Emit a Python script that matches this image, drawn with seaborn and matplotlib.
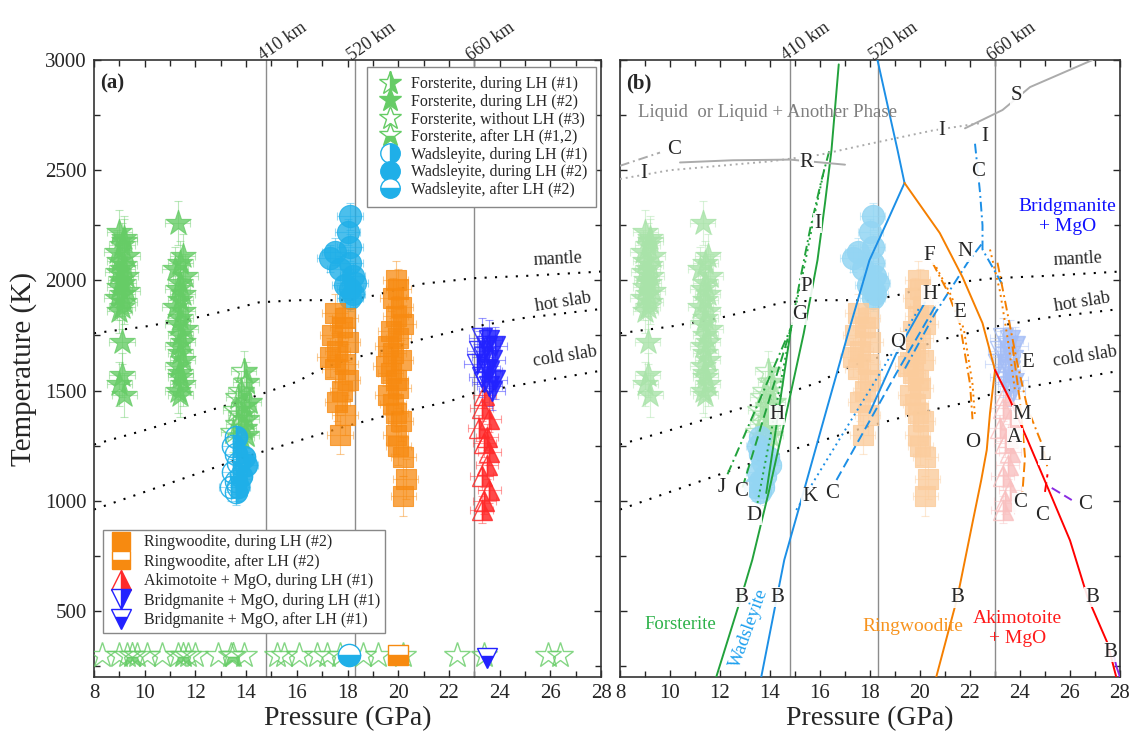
import matplotlib
matplotlib.use("Agg")
import matplotlib.pyplot as plt
from matplotlib.lines import Line2D
from matplotlib.ticker import MultipleLocator
import seaborn as sns

# ---------------- data (P in GPa, T in K) ----------------

# Forsterite, during LH (#2): two dense columns
fo2_P = [9.0, 9.2, 9.1, 8.9, 9.3, 9.0, 9.2, 9.1, 8.95, 9.25, 9.05, 9.15, 9.0, 9.3, 9.1, 8.9, 9.2, 9.1, 9.0, 9.2,
         9.1, 9.1, 9.0, 9.2,
         11.3, 11.5, 11.4, 11.2, 11.6, 11.4, 11.3, 11.5, 11.4, 11.2, 11.5, 11.4, 11.3, 11.6, 11.4, 11.5, 11.3,
         11.4, 11.5, 11.3, 11.4, 11.4, 11.5, 11.3, 11.4]
fo2_T = [2220, 2190, 2160, 2130, 2110, 2090, 2070, 2050, 2040, 2020, 2000, 1990, 1970, 1950, 1940, 1920, 1900,
         1880, 1860, 2180, 1720, 1570, 1530, 1480,
         2260, 2110, 2080, 2050, 2020, 1990, 1960, 1940, 1910, 1880, 1860, 1830, 1800, 1780, 1750, 1720, 1700,
         1670, 1640, 1610, 1580, 1560, 1530, 1500, 1480]

# Forsterite, during LH (#1)
fo1_P = [13.9, 14.0, 13.8, 13.7, 14.1, 13.9, 13.6, 13.8, 14.0, 13.7, 13.9, 13.5, 13.8, 14.0]
fo1_T = [1590, 1540, 1500, 1470, 1450, 1430, 1410, 1390, 1370, 1350, 1330, 1310, 1290, 1300]

# Forsterite, without LH (#3) and after LH (#1,2), room temperature
fo3_P = [8.3, 9.0, 9.3, 9.7, 10.1, 10.7, 11.3, 11.7, 12.0, 12.9, 13.4, 13.9, 15.2, 15.5, 16.1, 16.8, 17.2,
         17.7, 18.6, 19.2, 20.2, 22.3, 23.4, 25.9, 26.4]
fo3_T = [300, 300, 300, 300, 300, 300, 300, 300, 300, 300, 300, 300, 300, 300, 300, 300, 300,
         300, 300, 300, 300, 300, 300, 300, 300]
fo_after_P = [9.5, 11.5, 13.5]
fo_after_T = [300, 300, 300]

# Wadsleyite
wa1_P = [13.6, 13.5, 13.6, 13.7, 13.5, 13.6, 13.4, 13.6, 13.9, 14.0, 13.8, 13.7]
wa1_T = [1290, 1250, 1210, 1170, 1130, 1090, 1060, 1040, 1200, 1160, 1110, 1060]
wa2_P = [18.1, 18.0, 18.1, 17.5, 17.3, 17.7, 18.1, 18.2, 17.9, 18.1, 18.3, 18.2, 18.1]
wa2_T = [2290, 2220, 2150, 2130, 2100, 2050, 2080, 2020, 1980, 1960, 1990, 1940, 1920]
wa_after_P = [18.05]
wa_after_T = [300]

# Ringwoodite, during LH (#2)
rw2_P = [17.5, 17.9, 17.8, 17.4, 18.0, 17.6, 17.3, 17.9, 17.5, 18.0, 17.8, 17.6, 17.9, 17.7,
         19.9, 20.0, 19.8, 20.1, 19.9, 20.2, 19.7, 20.0, 19.6, 19.8, 20.1, 19.5, 19.7, 19.9, 20.0, 19.6,
         19.8, 19.9, 20.1, 19.9, 20.0, 20.2, 20.3, 20.2]
rw2_T = [1850, 1830, 1790, 1750, 1720, 1680, 1650, 1620, 1600, 1550, 1500, 1450, 1390, 1300,
         2000, 1960, 1920, 1880, 1840, 1800, 1770, 1740, 1700, 1670, 1640, 1610, 1580, 1550, 1510, 1480,
         1440, 1400, 1360, 1300, 1250, 1200, 1100, 1020]
rw_after_P = [20.0]
rw_after_T = [300]

# Akimotoite + MgO, during LH (#1)
ak1_P = [23.4, 23.3, 23.6, 23.2, 23.5, 23.4, 23.6, 23.5, 23.3, 23.6, 23.4, 23.3]
ak1_T = [1480, 1420, 1370, 1330, 1290, 1260, 1220, 1160, 1110, 1050, 1000, 960]

# Bridgmanite + MgO
bm1_P = [23.3, 23.6, 23.5, 23.8, 23.2, 23.4, 23.7, 23.1, 23.5, 23.6, 23.3, 23.8, 23.4, 23.6, 23.7]
bm1_T = [1740, 1730, 1700, 1700, 1680, 1650, 1640, 1620, 1600, 1590, 1560, 1550, 1540, 1520, 1500]
bm_after_P = [23.5]
bm_after_T = [285]

# geotherms
mantle_P = [8, 10, 12, 13.5, 14.5, 16, 18, 19, 20, 21, 23, 25, 28]
mantle_T = [1760, 1790, 1830, 1870, 1900, 1910, 1910, 1930, 1960, 1985, 2010, 2020, 2040]
hot_P = [8, 10, 12, 14, 16, 17, 18, 20, 21, 23, 25, 28]
hot_T = [1255, 1320, 1390, 1460, 1540, 1600, 1640, 1700, 1735, 1790, 1830, 1870]
cold_P = [8, 10, 12, 14, 16, 18, 20, 22, 23, 25, 28]
cold_T = [960, 1040, 1120, 1200, 1270, 1340, 1400, 1450, 1490, 1530, 1590]

# discontinuity depths
disc_P = [14.8, 18.3, 23.0]
disc_names = ["410 km", "520 km", "660 km"]

# phase boundaries in panel (b)
fo_B_P = [11.85, 12.85, 13.29, 13.97, 14.77, 15.35, 15.9, 16.2, 16.46, 16.75]
fo_B_T = [200, 563, 731, 1049, 1457, 1760, 2092, 2350, 2592, 2980]
fo_J_P = [12.3, 14.85, 15.2, 15.6, 16.05, 16.4]
fo_J_T = [1120, 1788, 2000, 2230, 2450, 2600]
fo_C_P = [12.9, 14.85]
fo_C_T = [1060, 1788]
fo_D_P = [13.5, 14.85, 15.35, 15.75, 16.2]
fo_D_T = [990, 1788, 2050, 2280, 2520]
fo_H_P = [13.85, 14.85]
fo_H_T = [1035, 1788]

wa_B_P = [13.65, 14.1, 14.57, 15.4, 16.26, 17.1, 17.98, 18.7, 19.38]
wa_B_T = [200, 460, 731, 1063, 1412, 1750, 2092, 2270, 2442]
wa_top_P = [19.38, 19.1, 18.3]
wa_top_T = [2442, 2592, 3000]
wa_K_P = [15.05, 17.0, 19.0, 20.0]
wa_K_T = [958, 1320, 1690, 1880]
wa_Q_P = [17.98, 19.06, 20.2]
wa_Q_T = [1398, 1670, 1900]
wa_C_P = [16.66, 19.06, 20.7]
wa_C_T = [1094, 1580, 1900]
wa_N_P = [19.4, 20.6, 21.9, 22.5]
wa_N_T = [1600, 1850, 2080, 2170]
wa_I_P = [22.2, 22.4, 22.5, 22.5, 22.9, 23.3]
wa_I_T = [2620, 2400, 2250, 2140, 2060, 1980]

rw_top_P = [19.38, 20.79, 21.7, 22.5, 23.0]
rw_top_T = [2442, 2215, 2015, 1806, 1593]
rw_B_P = [20.65, 21.5, 22.1, 22.45, 22.67, 22.8, 23.0]
rw_B_T = [200, 563, 900, 1094, 1230, 1398, 1593]
rw_F_P = [20.5, 21.1, 21.6, 22.0, 22.1]
rw_F_T = [2080, 1950, 1800, 1530, 1370]
rw_F2_P = [20.65, 21.25, 21.75, 22.1, 22.2]
rw_F2_T = [2060, 1930, 1780, 1530, 1380]
rw_r1_P = [22.8, 23.2, 23.5, 23.8]
rw_r1_T = [2140, 1950, 1740, 1500]
rw_r2_P = [23.1, 23.5, 23.9, 24.3, 24.9, 25.1]
rw_r2_T = [2080, 1850, 1620, 1420, 1250, 1150]
rw_r3_P = [23.7, 24.0, 24.2, 24.1]
rw_r3_T = [1700, 1450, 1200, 1040]

ak_B_P = [23.0, 23.6, 24.3, 25.1, 26.0, 26.7, 27.5, 27.85]
ak_B_T = [1593, 1457, 1276, 1062, 820, 563, 354, 200]
ak_C_P = [25.0, 25.1]
ak_C_T = [1040, 1120]
pu_C_P = [25.27, 26.07]
pu_C_T = [1058, 1003]
pu_B_P = [27.75, 27.85, 28.0]
pu_B_T = [300, 250, 200]

liq_C1_P = [8.0, 9.6]
liq_C1_T = [2520, 2580]
liq_C2_P = [10.4, 12.5, 14.8, 17.0]
liq_C2_T = [2535, 2545, 2548, 2525]
liq_I_P = [8.0, 10.0, 12.0, 14.0, 16.0, 18.0, 20.5, 22.5]
liq_I_T = [2460, 2500, 2520, 2540, 2570, 2620, 2680, 2715]
liq_S_P = [21.8, 23.3, 24.4, 26.9]
liq_S_T = [2690, 2773, 2877, 3000]

# letters in panel (b)
b_letters = ["C", "I", "R", "I", "S", "I", "C", "I", "F", "N", "P", "H", "G", "E", "Q", "E", "H", "M",
             "O", "A", "L", "J", "C", "K", "C", "C", "C", "C", "D", "B", "B", "B", "B", "B"]
b_letter_P = [10.16, 8.96, 15.46, 20.87, 23.87, 22.59, 22.31, 15.9, 20.38, 21.79, 15.46, 20.38, 15.17,
              21.59, 19.1, 24.3, 14.29, 24.07, 22.1, 23.79, 25.0, 12.05, 12.85, 15.58, 16.5, 23.99,
              26.6, 24.9, 13.37, 12.85, 14.29, 21.5, 26.88, 27.6]
b_letter_T = [2592, 2487, 2533, 2682, 2841, 2651, 2492, 2260, 2115, 2129, 1970, 1934, 1843, 1852, 1720,
              1625, 1389, 1389, 1262, 1285, 1207, 1062, 1040, 1017, 1035, 990, 981, 935, 935, 563, 563,
              559, 563, 313]

# ---------------- colours ----------------
GREEN = "#66CC66"
CYAN = "#1FAFE8"
ORANGE = "#F78A10"
RED = "#FF2A2A"
BLUE = "#2222FF"
L_GREEN = "#A9E3A9"
L_CYAN = "#93D5F3"
L_ORANGE = "#FBCC9C"
L_RED = "#F9C0C0"
L_BLUE = "#A4BDF6"

sns.set_style("ticks")
plt.rcParams["font.family"] = ["Liberation Serif", "DejaVu Serif"]

fig = plt.figure(figsize=(11.31, 7.34), dpi=100)
ax1 = fig.add_axes([94 / 1131, 57 / 734, 507 / 1131, 617 / 734])
ax2 = fig.add_axes([620 / 1131, 57 / 734, 500 / 1131, 617 / 734])


def draw_group(ax, P, T, color, marker, ms, fill, xerr, yerr, alpha, z=3):
    ax.errorbar(P, T, xerr=xerr, yerr=yerr, fmt="none", ecolor=color, elinewidth=0.8,
                capsize=3, capthick=0.8, alpha=0.45, zorder=z - 1)
    if fill == "full":
        sns.scatterplot(x=P, y=T, ax=ax, marker=marker, s=ms ** 2, color=color, edgecolor=color,
                        linewidth=0.8, alpha=alpha, legend=False, zorder=z)
    else:
        ax.plot(P, T, ls="none", marker=marker, ms=ms, fillstyle=fill, markerfacecolor=color,
                markerfacecoloralt="none", markeredgecolor=color, markeredgewidth=1.0,
                alpha=alpha, zorder=z)


def style_axis(ax, letter, ylabels):
    ax.set_xlim(8, 28)
    ax.set_ylim(200, 3000)
    ax.xaxis.set_major_locator(MultipleLocator(2))
    ax.xaxis.set_minor_locator(MultipleLocator(1))
    ax.yaxis.set_major_locator(MultipleLocator(500))
    ax.yaxis.set_minor_locator(MultipleLocator(250))
    ax.tick_params(which="major", direction="in", top=True, right=True, length=5, width=1,
                   labelsize=15, pad=5)
    ax.tick_params(which="minor", direction="in", top=True, right=True, length=4, width=1)
    for sp in ax.spines.values():
        sp.set_linewidth(1.2)
        sp.set_color("#333333")
    ax.set_xlabel("Pressure (GPa)", fontsize=20, labelpad=2)
    if ylabels:
        ax.set_ylabel("Temperature (K)", fontsize=21, labelpad=6)
    else:
        ax.set_yticklabels([])
    for p, name in zip(disc_P, disc_names):
        ax.axvline(p, color="#8C8C8C", lw=1.0, zorder=1)
        ax.text(p + 0.65, 1.03, name, transform=ax.get_xaxis_transform(), rotation=35,
                ha="center", va="center", fontsize=13)
    ax.text(8.25, 2895, letter, fontsize=15, fontweight="bold", ha="left", va="center")
    for P, T in [(mantle_P, mantle_T), (hot_P, hot_T), (cold_P, cold_T)]:
        ax.plot(P, T, color="black", ls=(0, (1, 4)), lw=1.5, zorder=2)
    ax.text(26.3, 2095, "mantle", fontsize=13, ha="center", va="center", rotation=3)
    ax.text(26.5, 1900, "hot slab", fontsize=13, ha="center", va="center", rotation=9)
    ax.text(26.6, 1655, "cold slab", fontsize=13, ha="center", va="center", rotation=9)


# ---------------- panel (a) ----------------
ax = ax1
draw_group(ax, fo2_P, fo2_T, GREEN, "*", 19, "full", 0.5, 100, 0.8)
draw_group(ax, fo1_P, fo1_T, GREEN, "*", 19, "right", 0.5, 90, 0.8)
draw_group(ax, wa1_P, wa1_T, CYAN, "o", 16, "right", 0.45, 60, 0.9)
draw_group(ax, wa2_P, wa2_T, CYAN, "o", 16, "full", 0.5, 60, 0.8)
draw_group(ax, rw2_P, rw2_T, ORANGE, "s", 14, "full", 0.5, 90, 0.75)
draw_group(ax, ak1_P, ak1_T, RED, "^", 15, "right", 0.45, 60, 0.85)
draw_group(ax, bm1_P, bm1_T, BLUE, "v", 15, "right", 0.5, 90, 0.85)
ax.plot(fo3_P, fo3_T, ls="none", marker="*", ms=19, markerfacecolor="none", markeredgecolor=GREEN,
        markeredgewidth=1.0, alpha=0.8, zorder=3)
ax.plot(fo_after_P, fo_after_T, ls="none", marker="*", ms=19, fillstyle="bottom", markerfacecolor=GREEN,
        markerfacecoloralt="none", markeredgecolor=GREEN, alpha=0.8, zorder=3)
ax.plot(wa_after_P, wa_after_T, ls="none", marker="o", ms=16, fillstyle="bottom", markerfacecolor=CYAN,
        markerfacecoloralt="white", markeredgecolor=CYAN, zorder=4)
ax.plot(rw_after_P, rw_after_T, ls="none", marker="s", ms=14, fillstyle="bottom", markerfacecolor=ORANGE,
        markerfacecoloralt="white", markeredgecolor=ORANGE, zorder=4)
ax.plot(bm_after_P, bm_after_T, ls="none", marker="v", ms=15, fillstyle="bottom", markerfacecolor=BLUE,
        markerfacecoloralt="white", markeredgecolor=BLUE, zorder=4)
style_axis(ax, "(a)", True)


def handle(marker, color, fill, ms):
    return Line2D([], [], ls="none", marker=marker, ms=ms, fillstyle=fill, markerfacecolor=color,
                  markerfacecoloralt="white", markeredgecolor=color, markeredgewidth=1.0)


h1 = [handle("*", GREEN, "right", 17), handle("*", GREEN, "full", 17), handle("*", GREEN, "none", 17),
      handle("*", GREEN, "bottom", 17), handle("o", CYAN, "right", 14), handle("o", CYAN, "full", 14),
      handle("o", CYAN, "bottom", 14)]
l1 = ["Forsterite, during LH (#1)", "Forsterite, during LH (#2)", "Forsterite, without LH (#3)",
      "Forsterite, after LH (#1,2)", "Wadsleyite, during LH (#1)", "Wadsleyite, during LH (#2)",
      "Wadsleyite, after LH (#2)"]
leg1 = ax.legend(h1, l1, loc="upper right", bbox_to_anchor=(0.99, 0.988), fontsize=11.5, frameon=True,
                 fancybox=False, edgecolor="#888888", framealpha=1, borderpad=0.55, labelspacing=0.1,
                 handletextpad=0.4, handlelength=1.8, borderaxespad=0)
leg1.get_frame().set_linewidth(1.0)
ax.add_artist(leg1)
h2 = [handle("s", ORANGE, "full", 13), handle("s", ORANGE, "bottom", 13), handle("^", RED, "right", 14),
      handle("v", BLUE, "right", 14), handle("v", BLUE, "bottom", 14)]
l2 = ["Ringwoodite, during LH (#2)", "Ringwoodite, after LH (#2)", "Akimotoite + MgO, during LH (#1)",
      "Bridgmanite + MgO, during LH (#1)", "Bridgmanite + MgO, after LH (#1)"]
leg2 = ax.legend(h2, l2, loc="lower left", bbox_to_anchor=(0.018, 0.071), fontsize=11.5, frameon=True,
                 fancybox=False, edgecolor="#888888", framealpha=1, borderpad=0.3, labelspacing=0.22,
                 handletextpad=0.55, handlelength=1.7, borderaxespad=0)
leg2.get_frame().set_linewidth(1.0)

# ---------------- panel (b) ----------------
ax = ax2
draw_group(ax, fo2_P, fo2_T, L_GREEN, "*", 19, "full", 0.5, 100, 0.8)
draw_group(ax, fo1_P, fo1_T, L_GREEN, "*", 19, "right", 0.5, 90, 0.8)
draw_group(ax, wa1_P, wa1_T, L_CYAN, "o", 16, "full", 0.45, 60, 0.8)
draw_group(ax, wa2_P, wa2_T, L_CYAN, "o", 16, "full", 0.5, 60, 0.85)
draw_group(ax, rw2_P, rw2_T, L_ORANGE, "s", 14, "full", 0.5, 90, 0.8)
draw_group(ax, ak1_P, ak1_T, L_RED, "^", 15, "right", 0.45, 60, 0.8)
draw_group(ax, bm1_P, bm1_T, L_BLUE, "v", 15, "right", 0.5, 90, 0.8)
style_axis(ax, "(b)", False)

G_LINE = "#22A23C"
B_LINE = "#1C8FE6"
O_LINE = "#F57F00"
R_LINE = "#FF0000"
P_LINE = "#8A2BE2"
GRAY = "#ABABAB"
DOT = (0, (1, 2))
DASH = (0, (5, 2.5))
DASHDOT = (0, (5, 2, 1, 2))
boundaries = [
    (fo_B_P, fo_B_T, G_LINE, "-"), (fo_J_P, fo_J_T, G_LINE, DASHDOT), (fo_C_P, fo_C_T, G_LINE, DASH),
    (fo_D_P, fo_D_T, G_LINE, DOT), (fo_H_P, fo_H_T, G_LINE, "-"),
    (wa_B_P, wa_B_T, B_LINE, "-"), (wa_top_P, wa_top_T, B_LINE, "-"), (wa_K_P, wa_K_T, B_LINE, DOT),
    (wa_Q_P, wa_Q_T, B_LINE, "-"), (wa_C_P, wa_C_T, B_LINE, DASH), (wa_N_P, wa_N_T, B_LINE, DASHDOT),
    (wa_I_P, wa_I_T, B_LINE, DASHDOT),
    (rw_top_P, rw_top_T, O_LINE, "-"), (rw_B_P, rw_B_T, O_LINE, "-"), (rw_F_P, rw_F_T, O_LINE, DASHDOT),
    (rw_F2_P, rw_F2_T, O_LINE, DOT), (rw_r1_P, rw_r1_T, O_LINE, DOT), (rw_r2_P, rw_r2_T, O_LINE, DASHDOT),
    (rw_r3_P, rw_r3_T, O_LINE, DASH),
    (ak_B_P, ak_B_T, R_LINE, "-"), (ak_C_P, ak_C_T, R_LINE, DASH), (pu_C_P, pu_C_T, P_LINE, DASH),
    (pu_B_P, pu_B_T, P_LINE, "-"),
    (liq_C1_P, liq_C1_T, GRAY, DASHDOT), (liq_C2_P, liq_C2_T, GRAY, "-"), (liq_I_P, liq_I_T, GRAY, DOT),
    (liq_S_P, liq_S_T, GRAY, "-"),
]
for P, T, c, ls in boundaries:
    ax.plot(P, T, color=c, ls=ls, lw=1.4, zorder=4)

for s, p, t in zip(b_letters, b_letter_P, b_letter_T):
    ax.text(p, t, s, fontsize=15, ha="center", va="center", zorder=6,
            bbox=dict(facecolor="white", edgecolor="none", pad=0.5, alpha=0.9))

ax.text(8.7, 2764, "Liquid  or Liquid + Another Phase", fontsize=13.5, color="#7F7F7F",
        ha="left", va="center", zorder=6)
ax.text(25.9, 2290, "Bridgmanite\n+ MgO", fontsize=14, color="#1010FF", ha="center", va="center",
        linespacing=1.3, zorder=6)
ax.text(10.4, 436, "Forsterite", fontsize=13.5, color="#2DB24A", ha="center", va="center", zorder=6)
ax.text(13.15, 420, "Wadsleyite", fontsize=13.5, color="#1EA0EE", ha="center", va="center",
        rotation=70, zorder=6)
ax.text(19.7, 427, "Ringwoodite", fontsize=14, color="#F7931E", ha="center", va="center", zorder=6)
ax.text(23.9, 420, "Akimotoite\n+ MgO", fontsize=14, color="#FF1A1A", ha="center", va="center",
        linespacing=1.3, zorder=6)

fig.savefig("out.png", dpi=100)
